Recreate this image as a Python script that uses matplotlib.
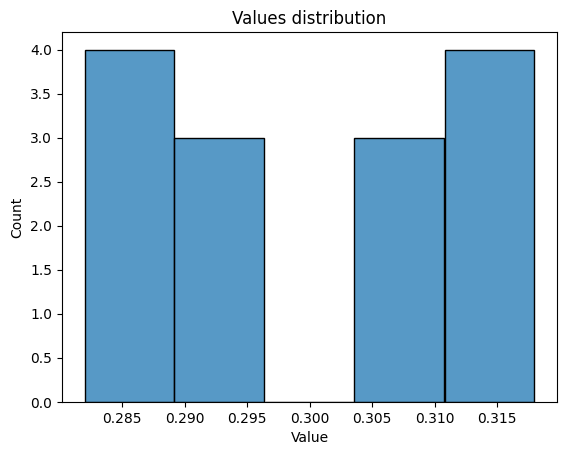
import matplotlib
matplotlib.use('Agg')
import matplotlib.pyplot as plt
import seaborn as sns

# values (14 points, 5 bins)
values = [0.2820, 0.2840, 0.2860, 0.2880,
          0.2900, 0.2925, 0.2950,
          0.3050, 0.3070, 0.3090,
          0.3120, 0.3140, 0.3160, 0.3180]
n_bins = 5

fig = plt.figure(figsize=(5.67, 4.55), dpi=100)
ax = fig.add_axes([62 / 567, 1 - 402 / 455, (557 - 62) / 567, (402 - 32) / 455])
sns.histplot(values, bins=n_bins, ax=ax)
ax.set_title('Values distribution')
ax.set_xlabel('Value')
ax.set_ylabel('Count')

fig.savefig('out.png', dpi=100)
